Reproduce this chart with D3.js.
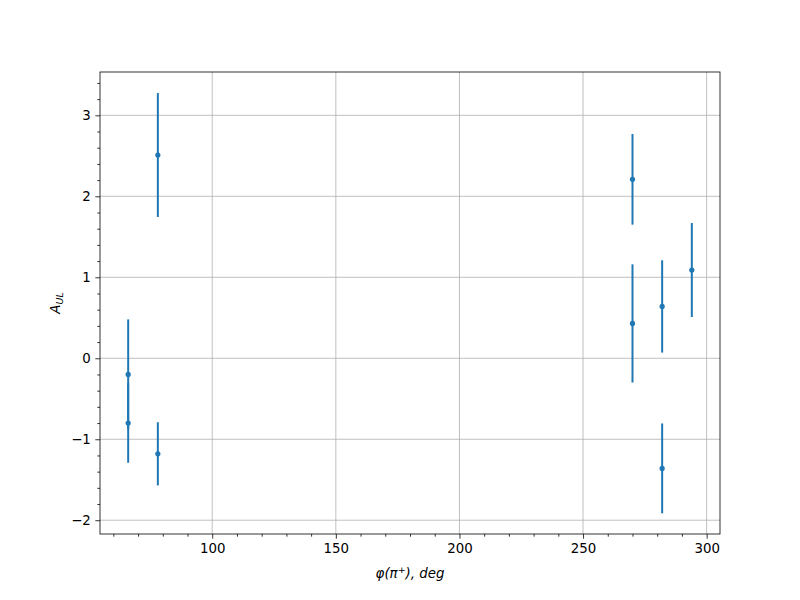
<!DOCTYPE html>
<html><head><meta charset="utf-8">
<script src="https://cdn.jsdelivr.net/npm/d3@7"></script>
<style>body{margin:0;background:#fff}svg{display:block}text{font-family:"DejaVu Sans",sans-serif}</style>
</head><body>
<svg id="c" width="800" height="600"></svg>
<script>
const phi = [66, 66, 78, 78, 270, 270, 282, 282, 294];
const aul = [-0.20, -0.80, 2.51, -1.18, 2.21, 0.43, 0.64, -1.36, 1.09];
const err = [0.68, 0.49, 0.765, 0.39, 0.56, 0.73, 0.57, 0.555, 0.58];
const xTicks = [100, 150, 200, 250, 300];
const yTicks = [-2, -1, 0, 1, 2, 3];

const svg = d3.select("#c");
const L = 100, R = 720, T = 72, B = 534;
const x = d3.scaleLinear().domain([54.6, 305.4]).range([L, R]);
const y = d3.scaleLinear().domain([-2.17, 3.535]).range([B, T]);

// grid
const g = svg.append("g");
g.selectAll(".gx").data(xTicks).join("line")
  .attr("x1", d => x(d)).attr("x2", d => x(d)).attr("y1", T).attr("y2", B)
  .attr("stroke", "#b0b0b0").attr("stroke-width", 0.8);
g.selectAll(".gy").data(yTicks).join("line")
  .attr("y1", d => y(d)).attr("y2", d => y(d)).attr("x1", L).attr("x2", R)
  .attr("stroke", "#b0b0b0").attr("stroke-width", 0.8);

// axes
const xMinor = d3.range(60, 306, 10).filter(v => !xTicks.includes(v));
const yMinor = d3.range(-2.0, 3.55, 0.2).map(v => Math.round(v * 10) / 10).filter(v => !yTicks.includes(v) && v >= -2.17);

const xAx = svg.append("g").attr("transform", `translate(0,${B})`)
  .call(d3.axisBottom(x).tickValues(xTicks).tickSize(4.67).tickPadding(4.5).tickFormat(d3.format("d")));
svg.append("g").attr("transform", `translate(0,${B})`)
  .call(d3.axisBottom(x).tickValues(xMinor).tickSize(2.67).tickFormat(""));
const yAx = svg.append("g").attr("transform", `translate(${L},0)`)
  .call(d3.axisLeft(y).tickValues(yTicks).tickSize(4.67).tickPadding(4.5).tickFormat(d => d < 0 ? "\u2212" + Math.abs(d) : d));
svg.append("g").attr("transform", `translate(${L},0)`)
  .call(d3.axisLeft(y).tickValues(yMinor).tickSize(2.67).tickFormat(""));
svg.selectAll(".domain").remove();
svg.selectAll(".tick line").attr("stroke", "#000").attr("stroke-width", 0.8);
svg.selectAll(".tick text").attr("font-size", 13.33).attr("fill", "#000").attr("font-family", "DejaVu Sans");

// error bars
const pts = phi.map((p, i) => ({p, a: aul[i], e: err[i]}));
svg.append("g").selectAll("line").data(pts).join("line")
  .attr("x1", d => x(d.p)).attr("x2", d => x(d.p))
  .attr("y1", d => y(d.a - d.e)).attr("y2", d => y(d.a + d.e))
  .attr("stroke", "#1f77b4").attr("stroke-width", 2);
svg.append("g").selectAll("circle").data(pts).join("circle")
  .attr("cx", d => x(d.p)).attr("cy", d => y(d.a)).attr("r", 2.6)
  .attr("fill", "#1f77b4");

// frame
svg.append("rect").attr("x", L).attr("y", T).attr("width", R - L).attr("height", B - T)
  .attr("fill", "none").attr("stroke", "#000").attr("stroke-width", 0.8);

// labels
const xl = svg.append("text").attr("x", (L + R) / 2).attr("y", 578).attr("text-anchor", "middle")
  .attr("font-size", 13.33).attr("font-style", "italic");
xl.append("tspan").text("\u03c6(\u03c0");
xl.append("tspan").attr("font-size", 9.5).attr("dy", -5).attr("font-style", "normal").text("+");
xl.append("tspan").attr("dy", 5).text("), deg");

const yl = svg.append("text").attr("transform", `translate(60,${(T + B) / 2}) rotate(-90)`)
  .attr("text-anchor", "middle").attr("font-size", 13.33).attr("font-style", "italic");
yl.append("tspan").text("A");
yl.append("tspan").attr("font-size", 9.5).attr("dy", 3).text("UL");
</script>
</body></html>
